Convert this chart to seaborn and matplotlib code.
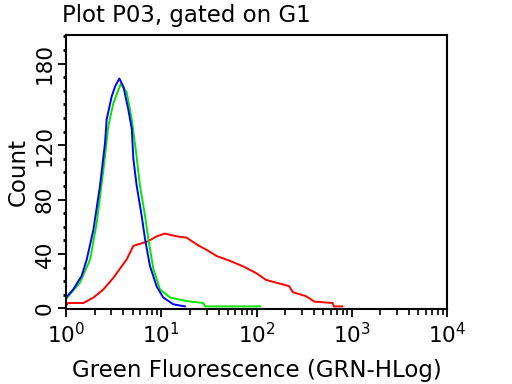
import numpy as np
import pandas as pd
import matplotlib
matplotlib.use("Agg")
import matplotlib.pyplot as plt
import matplotlib.ticker as mticker
import seaborn as sns

# fluorescence values (x) and counts (y)
blue_x = [1.0, 1.19, 1.46, 1.65, 1.94, 2.27, 2.57, 2.67, 3.02, 3.27, 3.63, 4.0,
          4.51, 4.9, 5.09, 5.52, 6.23, 6.75, 7.62, 8.96, 10.5, 13.4, 17.8]
blue_y = [8, 14, 24, 36, 58, 90, 122, 139, 156, 163, 169, 163,
          146, 132, 110, 90, 68, 51, 31, 16, 8, 3, 1.5]

green_x = [1.0, 1.4, 1.79, 2.1, 2.47, 2.78, 3.14, 3.75, 4.33, 4.9, 5.43, 5.98,
           6.75, 7.31, 8.26, 9.7, 12.4, 18.5, 27.6, 29.0, 60.0, 110.0]
green_y = [7, 19, 36, 63, 102, 134, 151, 165, 159, 139, 115, 90,
           68, 51, 29, 14, 8, 5.4, 4, 1.5, 1.5, 1.5]

red_x = [1.0, 1.05, 1.52, 1.94, 2.47, 3.14, 3.84, 4.33, 5.09, 5.98, 7.31, 8.96,
         10.9, 14.5, 18.5, 23.6, 30.0, 38.2, 52.5, 72.0, 99.0, 126.0, 160.0,
         220.0, 240.0, 331.0, 405.0, 630.0, 650.0, 800.0]
red_y = [2, 4, 4, 8, 14, 22.5, 31, 36, 46, 47.5, 49.5, 53,
         55, 53, 52, 47, 43, 38.5, 35, 31, 26, 21, 19,
         16.4, 12, 9, 5, 4, 1.5, 1.5]

df = pd.concat([
    pd.DataFrame({"x": red_x, "y": red_y, "s": "red"}),
    pd.DataFrame({"x": green_x, "y": green_y, "s": "green"}),
    pd.DataFrame({"x": blue_x, "y": blue_y, "s": "blue"}),
], ignore_index=True)

sns.set_style("ticks")
plt.rcParams["font.family"] = ["DejaVu Sans"]
plt.rcParams["text.color"] = "black"
plt.rcParams["axes.labelcolor"] = "black"
plt.rcParams["xtick.color"] = "black"
plt.rcParams["ytick.color"] = "black"

fig = plt.figure(figsize=(5.12, 3.84), dpi=100)
ax = fig.add_axes([0.129, 0.195, 0.744, 0.714])

sns.lineplot(data=df, x="x", y="y", hue="s", estimator=None, sort=False,
             palette={"red": "#ff0000", "green": "#00e600", "blue": "#0000ff"},
             linewidth=1.4, legend=False, ax=ax)

ax.set_xscale("log")
ax.set_xlim(1, 1e4)
ax.set_ylim(-0.5, 201)

ax.set_yticks([0, 40, 80, 120, 180])
ax.yaxis.set_minor_locator(mticker.MultipleLocator(10))
ax.xaxis.set_major_locator(mticker.LogLocator(base=10, numticks=10))
ax.xaxis.set_minor_locator(mticker.LogLocator(base=10, subs=np.arange(2, 10), numticks=20))
ax.xaxis.set_minor_formatter(mticker.NullFormatter())

ax.tick_params(axis="both", which="major", labelsize=15.5, length=6, width=1.3)
ax.tick_params(axis="x", which="major", pad=3)
ax.tick_params(axis="y", which="major", pad=2)
ax.tick_params(axis="x", which="minor", length=4, width=1.2)
ax.tick_params(axis="y", which="minor", length=2, width=2)
for lab in ax.get_yticklabels():
    lab.set_rotation(90)
    lab.set_va("center")

for sp in ax.spines.values():
    sp.set_visible(True)
    sp.set_color("black")
    sp.set_linewidth(1.5)

ax.set_xlabel("Green Fluorescence (GRN-HLog)", fontsize=16.5, labelpad=9)
ax.set_ylabel("Count", fontsize=16.5, labelpad=4)
fig.text(0.121, 0.99, "Plot P03, gated on G1", fontsize=16.5, ha="left", va="top")

fig.savefig("out.png", dpi=100)
